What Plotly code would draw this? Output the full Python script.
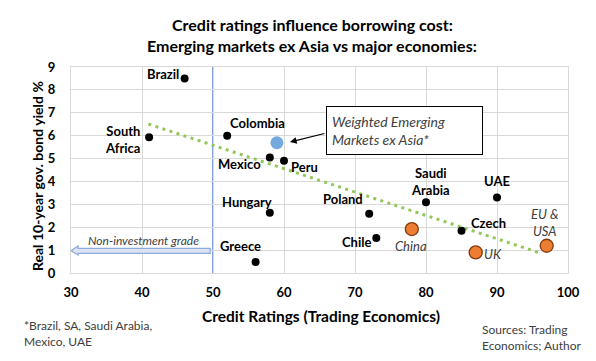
import plotly.graph_objects as go

# ---------------- data ----------------
em_names = ["Brazil", "South<br>Africa", "Colombia", "Mexico", "Peru", "Hungary",
            "Greece", "Poland", "Saudi<br>Arabia", "UAE", "Chile", "Czech"]
em_rating = [46, 41, 52, 58, 60, 58, 56, 72, 80, 90, 73, 85]
em_yield = [8.5, 5.93, 6.0, 5.05, 4.9, 2.63, 0.48, 2.59, 3.09, 3.3, 1.53, 1.85]

major_names = ["China", "UK", "EU &<br>USA"]
major_rating = [78, 87, 97]
major_yield = [1.92, 0.9, 1.19]

weighted_name = ["Weighted Emerging<br>Markets ex Asia*"]
weighted_rating = [59]
weighted_yield = [5.69]

trend_x = [40.9, 96.2]
trend_y = [6.51, 0.86]

x_ticks = [30, 40, 50, 60, 70, 80, 90, 100]
y_ticks = [0, 1, 2, 3, 4, 5, 6, 7, 8, 9]
invest_threshold = 50

# ---------------- layout / styles ----------------
W, H = 596, 361
ML, MR, MT, MB = 71, 28, 67, 88
PW, PH = W - ML - MR, H - MT - MB
FONT = "Lato, 'Open Sans', sans-serif"


def px_x(p):
    return (p - ML) / PW


def px_y(p):
    return 1 - (p - MT) / PH


em_offsets = {
    "Brazil": (-22, 4, "center"),
    "South<br>Africa": (-7, -2, "right"),
    "Colombia": (30, 13, "center"),
    "Mexico": (-30, -7, "center"),
    "Peru": (20, -6, "center"),
    "Hungary": (-23, 11, "center"),
    "Greece": (-15, 16, "center"),
    "Poland": (-26, 15, "center"),
    "Saudi<br>Arabia": (4, 21, "center"),
    "UAE": (0, 16, "center"),
    "Chile": (-20, -4, "center"),
    "Czech": (27, 8, "center"),
}
major_offsets = {
    "China": (-1, -17, "center"),
    "UK": (17, -2, "center"),
    "EU &<br>USA": (-2, 23, "center"),
}

fig = go.Figure()

fig.add_trace(go.Scatter(
    x=trend_x, y=trend_y, mode="lines",
    line=dict(color="#92C85A", width=3, dash="3px,4.4px"),
    hoverinfo="skip", showlegend=False))

fig.add_trace(go.Scatter(
    x=em_rating, y=em_yield, mode="markers",
    marker=dict(color="black", size=8), showlegend=False))

fig.add_trace(go.Scatter(
    x=major_rating, y=major_yield, mode="markers",
    marker=dict(color="#ED7D31", size=13, line=dict(color="#7F3A0E", width=1.3)),
    showlegend=False))

fig.add_trace(go.Scatter(
    x=weighted_rating, y=weighted_yield, mode="markers",
    marker=dict(color="#74A9DE", size=13), showlegend=False))

annotations = []
for n, xv, yv in zip(em_names, em_rating, em_yield):
    dx, dy, anchor = em_offsets[n]
    annotations.append(dict(
        x=xv, y=yv, xref="x", yref="y", text=n, showarrow=False,
        xshift=dx, yshift=dy, xanchor=anchor, yanchor="middle", align=anchor,
        font=dict(family=FONT, size=13, color="black", weight="bold")))
for n, xv, yv in zip(major_names, major_rating, major_yield):
    dx, dy, anchor = major_offsets[n]
    annotations.append(dict(
        x=xv, y=yv, xref="x", yref="y", text="<i>" + n + "</i>", showarrow=False,
        xshift=dx, yshift=dy, xanchor=anchor, yanchor="middle",
        font=dict(family=FONT, size=13, color="#404040")))

# weighted EM callout box + arrow
annotations.append(dict(
    x=76.97, y=6.22, xref="x", yref="y", xanchor="center", yanchor="middle",
    text="<i>" + weighted_name[0] + "</i>", showarrow=False,
    align="left", width=145, height=37, borderpad=5,
    bordercolor="black", borderwidth=1, bgcolor="white",
    font=dict(family=FONT, size=14, color="#404040")))
annotations.append(dict(
    x=weighted_rating[0] + 1.85, y=weighted_yield[0] + 0.03, xref="x", yref="y",
    ax=65.9, ay=6.11, axref="x", ayref="y", text="", showarrow=True,
    arrowhead=2, arrowsize=1.1, arrowwidth=1.2, arrowcolor="black"))

# non-investment text
annotations.append(dict(
    x=40.25, y=1.42, xref="x", yref="y", xanchor="center", yanchor="middle",
    text="<i>Non-investment grade</i>", showarrow=False,
    font=dict(family=FONT, size=12, color="#404040")))


def paper_text(text, x, y, size, color="black", xanchor="center", align="center", angle=0):
    annotations.append(dict(
        x=px_x(x), y=px_y(y), xref="paper", yref="paper",
        xanchor=xanchor, yanchor="middle", align=align, textangle=angle,
        text=text, showarrow=False, font=dict(family=FONT, size=size, color=color)))


# titles
paper_text("<b>Credit ratings influence borrowing cost:</b>", 312, 24, 16)
paper_text("<b>Emerging markets ex Asia vs major economies:</b>", 312, 45, 16)
# axis titles
paper_text("<b>Real 10-year gov. bond yield %</b>", 37, 176, 14, angle=-90)
paper_text("<b>Credit Ratings (Trading Economics)</b>", 321, 316, 15.5)
# footnotes
paper_text("*Brazil, SA, Saudi Arabia,<br>Mexico, UAE", 22, 333, 12, "#404040", "left", "left")
paper_text("Sources: Trading<br>Economics; Author", 480, 337, 12, "#404040", "left", "left")

shapes = [
    dict(type="line", xref="x", yref="y", x0=invest_threshold, x1=invest_threshold,
         y0=0, y1=9, line=dict(color="#4472C4", width=1.3), layer="below"),
    dict(type="path", xref="x", yref="y",
         path="M 30,0.97 L 31,1.18 L 31,1.08 L 49.6,1.08 L 49.6,0.86 L 31,0.86 L 31,0.79 Z",
         fillcolor="#DAE3F3", line=dict(color="#8FAADC", width=1.2), layer="above"),
]

fig.update_layout(
    width=W, height=H,
    margin=dict(l=ML, r=MR, t=MT, b=MB, autoexpand=False),
    paper_bgcolor="white", plot_bgcolor="white",
    showlegend=False,
    annotations=annotations, shapes=shapes,
    font=dict(family=FONT),
)
axis_common = dict(
    showgrid=True, gridcolor="#D9D9D9", gridwidth=1,
    showline=True, linecolor="#D9D9D9", mirror=True, zeroline=False,
    ticks="outside", ticklen=0,
    tickfont=dict(family=FONT, size=13, color="black", weight="bold"))
fig.update_xaxes(range=[30, 100], tickvals=x_ticks, ticktext=[str(t) for t in x_ticks],
                 ticklabelstandoff=7, **axis_common)
fig.update_yaxes(range=[0, 9], tickvals=y_ticks, ticktext=[str(t) for t in y_ticks],
                 ticklabelstandoff=12, **axis_common)

fig.write_html("out.html", config={"displayModeBar": False},
               post_script="document.body.style.margin='0';")
